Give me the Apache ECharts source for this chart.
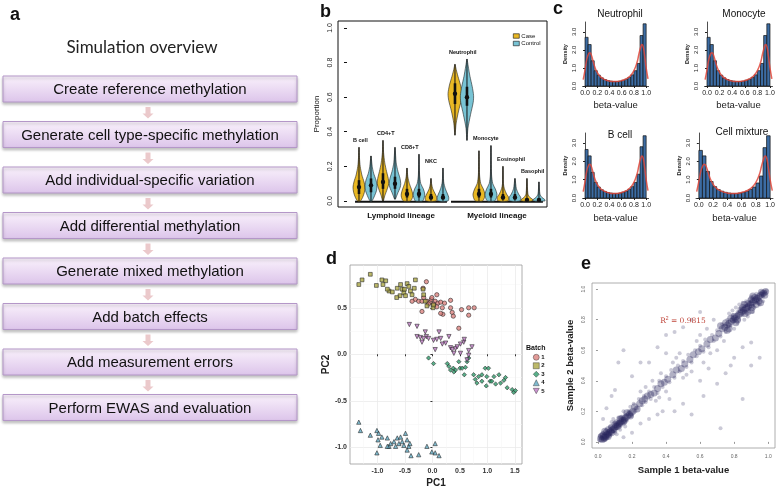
<!DOCTYPE html>
<html><head><meta charset="utf-8">
<script src="https://cdn.jsdelivr.net/npm/echarts@6/dist/echarts.min.js"></script>
<style>html,body{margin:0;padding:0;background:#fff}#c{width:778px;height:489px}</style>
</head><body><div id="c"></div>
<script>
// ---------- Panel a ----------
const flowTitle = 'Simulation overview';
const steps = ['Create reference methylation','Generate cell type-specific methylation','Add individual-specific variation','Add differential methylation','Generate mixed methylation','Add batch effects','Add measurement errors','Perform EWAS and evaluation'];

// ---------- Panel b ----------
const cellTypes = ['B cell','CD4+T','CD8+T','NKC','Neutrophil','Monocyte','Eosinophil','Basophil'];
const lineages = ['Lymphoid lineage','Myeloid lineage'];
const bTicks = [0,0.2,0.4,0.6,0.8,1.0];
// violin profiles: [proportion, half-width]
const violinCase = [
 [[0,0.12],[0.02,0.3],[0.05,0.45],[0.08,0.5],[0.11,0.42],[0.15,0.24],[0.2,0.1],[0.25,0.04],[0.31,0.01]],
 [[0,0.03],[0.03,0.15],[0.07,0.36],[0.1,0.48],[0.13,0.44],[0.17,0.3],[0.22,0.15],[0.28,0.05],[0.35,0.01]],
 [[0,0.3],[0.02,0.46],[0.04,0.48],[0.07,0.36],[0.1,0.2],[0.14,0.07],[0.19,0.01]],
 [[0,0.42],[0.02,0.48],[0.04,0.36],[0.07,0.15],[0.1,0.05],[0.13,0.01]],
 [[0.38,0.01],[0.45,0.1],[0.52,0.3],[0.58,0.52],[0.62,0.58],[0.67,0.46],[0.72,0.25],[0.76,0.1],[0.79,0.01]],
 [[0,0.3],[0.02,0.46],[0.04,0.5],[0.07,0.36],[0.1,0.15],[0.15,0.05],[0.29,0.01]],
 [[0,0.42],[0.02,0.48],[0.04,0.3],[0.07,0.12],[0.1,0.04],[0.2,0.01]],
 [[0,0.5],[0.01,0.46],[0.02,0.25],[0.04,0.08],[0.13,0.01]]
];
const violinControl = [
 [[0,0.08],[0.03,0.3],[0.06,0.46],[0.09,0.5],[0.12,0.42],[0.16,0.22],[0.2,0.1],[0.26,0.01]],
 [[0.01,0.03],[0.04,0.2],[0.08,0.44],[0.1,0.48],[0.13,0.42],[0.17,0.25],[0.22,0.1],[0.31,0.01]],
 [[0,0.3],[0.02,0.44],[0.04,0.48],[0.07,0.36],[0.1,0.15],[0.15,0.05],[0.27,0.01]],
 [[0,0.42],[0.02,0.48],[0.04,0.38],[0.07,0.2],[0.11,0.06],[0.19,0.01]],
 [[0.35,0.01],[0.42,0.08],[0.5,0.3],[0.57,0.52],[0.61,0.55],[0.66,0.44],[0.72,0.25],[0.78,0.1],[0.82,0.01]],
 [[0,0.3],[0.02,0.46],[0.04,0.5],[0.07,0.36],[0.1,0.15],[0.15,0.05],[0.32,0.01]],
 [[0,0.42],[0.02,0.48],[0.04,0.3],[0.07,0.12],[0.13,0.01]],
 [[0,0.5],[0.01,0.46],[0.02,0.25],[0.04,0.08],[0.11,0.01]]
];
// [min, q1, median, q3, max]
const boxCase = [[0,0.04,0.08,0.12,0.31],[0,0.07,0.11,0.16,0.35],[0,0.02,0.04,0.07,0.19],[0,0.01,0.02,0.04,0.13],[0.38,0.56,0.62,0.68,0.79],[0,0.02,0.04,0.07,0.29],[0,0.01,0.02,0.04,0.2],[0,0.003,0.006,0.015,0.13]];
const boxControl = [[0,0.05,0.09,0.13,0.26],[0.01,0.07,0.1,0.14,0.31],[0,0.02,0.04,0.07,0.27],[0,0.01,0.02,0.04,0.19],[0.35,0.55,0.6,0.66,0.82],[0,0.02,0.04,0.07,0.32],[0,0.01,0.02,0.04,0.13],[0,0.003,0.006,0.015,0.11]];

// ---------- Panel c ----------
const histTitles = ['Neutrophil','Monocyte','B cell','Cell mixture'];
const histBins = [0,0.05,0.1,0.15,0.2,0.25,0.3,0.35,0.4,0.45,0.5,0.55,0.6,0.65,0.7,0.75,0.8,0.85,0.9,0.95,1.0];
const histNeutrophil = [2.7,2.3,1.4,0.85,0.6,0.45,0.36,0.3,0.27,0.25,0.25,0.27,0.32,0.38,0.48,0.62,0.85,1.25,2.8,3.45];
const histMonocyte = [2.7,2.3,1.4,0.85,0.6,0.45,0.36,0.3,0.27,0.25,0.25,0.27,0.32,0.38,0.48,0.62,0.85,1.25,2.8,3.45];
const histBcell = [2.65,2.3,1.4,0.85,0.6,0.45,0.36,0.3,0.27,0.25,0.25,0.27,0.32,0.38,0.48,0.62,0.85,1.3,2.8,3.4];
const histMixture = [2.6,2.3,1.45,0.9,0.62,0.46,0.37,0.31,0.27,0.25,0.25,0.27,0.31,0.37,0.47,0.6,0.82,1.2,2.75,3.4];
const densX = [-0.03,0,0.03,0.06,0.08,0.1,0.13,0.16,0.2,0.25,0.3,0.35,0.4,0.45,0.5,0.55,0.6,0.65,0.7,0.75,0.8,0.85,0.88,0.91,0.93,0.95,0.97,1.0,1.03];
const densY = [0.35,0.9,1.5,1.8,1.85,1.75,1.4,1.05,0.75,0.52,0.4,0.32,0.27,0.25,0.25,0.26,0.3,0.36,0.45,0.6,0.85,1.3,1.75,2.15,2.3,2.2,1.8,1.0,0.4];
const cXTicks = [0,0.2,0.4,0.6,0.8,1.0];
const cYTicks = [0,1,2,3];

// ---------- Panel d ----------
const batchNames = ['1','2','3','4','5'];
const dXTicks = [-1.0,-0.5,0,0.5,1.0,1.5];
const dYTicks = [-1.0,-0.5,0,0.5];
const pcaBatch1 = [[-0.11,0.78],[-0.17,0.71],[-0.31,0.59],[-0.25,0.57],[-0.19,0.57],[-0.16,0.61],[-0.10,0.57],[-0.04,0.56],[-0.02,0.59],[0.05,0.57],[0.08,0.64],[0.02,0.54],[0.10,0.55],[0.15,0.56],[0.18,0.50],[0.22,0.55],[0.33,0.58],[0.33,0.50],[0.19,0.43],[0.36,0.45],[0.38,0.41],[0.53,0.48],[0.48,0.28],[0.66,0.50],[0.66,0.42],[0.76,0.50],[-0.37,0.57],[-0.07,0.54],[-0.19,0.46],[-0.01,0.61],[0.15,0.44],[0.08,0.51]];
const pcaBatch2 = [[-1.34,0.75],[-1.28,0.80],[-1.13,0.86],[-1.02,0.74],[-0.92,0.80],[-0.85,0.79],[-0.90,0.75],[-0.79,0.68],[-0.73,0.67],[-0.64,0.71],[-0.59,0.63],[-0.58,0.75],[-0.55,0.70],[-0.52,0.66],[-0.46,0.76],[-0.43,0.73],[-0.49,0.63],[-0.40,0.68],[-0.31,0.80],[-0.33,0.71],[-0.17,0.70],[-0.16,0.64],[-0.13,0.57],[-0.10,0.52],[0.01,0.50],[0.02,0.53],[-0.65,0.61],[-0.82,0.70],[-0.51,0.70],[-0.37,0.64]];
const pcaBatch3 = [[-0.07,-0.04],[0.02,-0.10],[0.27,-0.10],[0.30,-0.13],[0.33,-0.17],[0.38,-0.15],[0.42,-0.17],[0.39,-0.19],[0.48,-0.08],[0.50,-0.15],[0.54,-0.15],[0.60,-0.14],[0.58,-0.22],[0.63,-0.08],[0.66,-0.04],[0.75,-0.22],[0.78,-0.27],[0.84,-0.24],[0.81,-0.31],[0.90,-0.29],[0.90,-0.22],[0.96,-0.15],[0.99,-0.24],[1.02,-0.15],[1.05,-0.29],[1.12,-0.24],[1.21,-0.22],[1.24,-0.31],[1.30,-0.28],[1.33,-0.25],[1.36,-0.36],[1.45,-0.38],[1.48,-0.41],[1.51,-0.39],[0.98,-0.34],[1.08,-0.29],[1.15,-0.32]];
const pcaBatch4 = [[-1.34,-0.73],[-1.31,-0.82],[-1.13,-0.87],[-1.01,-0.82],[-0.98,-0.85],[-0.99,-0.92],[-0.92,-0.89],[-0.95,-0.98],[-0.82,-0.90],[-0.79,-0.99],[-0.76,-0.96],[-0.70,-0.94],[-0.67,-0.99],[-0.64,-0.90],[-0.61,-0.96],[-0.58,-0.89],[-0.55,-0.94],[-0.52,-0.98],[-0.49,-0.85],[-0.46,-0.92],[-0.43,-0.99],[-0.41,-0.96],[-0.39,-1.09],[-0.25,-1.08],[-0.10,-0.99],[-0.01,-1.05],[0.05,-0.96],[0.05,-1.06],[0.12,-1.09],[-1.01,-1.06],[-0.82,-0.99],[-0.46,-1.03]];
const pcaBatch5 = [[-0.42,0.32],[-0.28,0.30],[-0.28,0.19],[-0.22,0.18],[-0.16,0.17],[-0.11,0.19],[-0.13,0.24],[-0.07,0.17],[0.02,0.15],[0.08,0.16],[0.12,0.24],[0.15,0.17],[0.18,0.11],[0.24,0.12],[0.30,0.19],[0.33,0.07],[0.36,0.05],[0.42,0.06],[0.51,0.11],[0.57,0.13],[0.58,0.16],[0.51,0.01],[0.66,0.04],[0.66,-0.01],[0.72,0.08],[0.63,-0.06],[0.05,0.05],[-0.19,0.13],[0.45,0.08],[0.39,0.01]];

// ---------- Panel e ----------
const eTicks = [0,0.2,0.4,0.6,0.8,1.0];
const rSquared = '0.9815';
const betaCore = [
[0.015,0.02],[0.025,0.015],[0.035,0.03],[0.045,0.04],[0.055,0.05],[0.065,0.06],[0.075,0.07],[0.085,0.08],[0.095,0.09],[0.105,0.1],[0.115,0.11],[0.125,0.12],[0.135,0.13],[0.145,0.14],[0.155,0.15],[0.165,0.16],[0.175,0.17],[0.185,0.18],[0.195,0.19],[0.205,0.2],
[0.02,0.035],[0.035,0.02],[0.05,0.065],[0.065,0.05],[0.08,0.095],[0.095,0.08],[0.11,0.125],[0.125,0.11],[0.14,0.155],[0.155,0.14],[0.17,0.19],[0.19,0.17],[0.215,0.23],[0.23,0.215],[0.245,0.25],[0.26,0.27],[0.275,0.28],[0.29,0.3],[0.31,0.31],[0.33,0.32],
[0.35,0.35],[0.37,0.38],[0.39,0.39],[0.41,0.41],[0.44,0.44],[0.46,0.47],[0.49,0.48],[0.51,0.51],[0.54,0.54],[0.56,0.57],[0.59,0.59],[0.61,0.61],[0.64,0.64],[0.66,0.67],[0.69,0.68],[0.71,0.71],[0.73,0.74],[0.745,0.75],[0.76,0.765],[0.77,0.775],
[0.785,0.79],[0.795,0.8],[0.805,0.81],[0.815,0.82],[0.825,0.83],[0.835,0.84],[0.845,0.85],[0.855,0.86],[0.865,0.87],[0.875,0.88],[0.885,0.89],[0.895,0.9],[0.905,0.91],[0.915,0.92],[0.925,0.93],[0.935,0.94],[0.945,0.95],[0.955,0.96],[0.965,0.97],[0.975,0.975],[0.985,0.985],
[0.8,0.82],[0.82,0.8],[0.84,0.865],[0.865,0.84],[0.88,0.905],[0.905,0.88],[0.92,0.945],[0.945,0.92],[0.96,0.98],[0.98,0.96],[0.78,0.81],[0.81,0.78],[0.85,0.88],[0.88,0.85],[0.9,0.93],[0.93,0.9],[0.86,0.9],[0.9,0.86],[0.91,0.955],[0.955,0.91],[0.75,0.78],[0.77,0.74],[0.72,0.76],[0.76,0.73],
[0.03,0.045],[0.045,0.03],[0.06,0.08],[0.08,0.06],[0.1,0.115],[0.115,0.1],[0.13,0.15],[0.15,0.13],[0.06,0.035],[0.04,0.07]
];
const betaPairs = [
[0.01,0.01],[0.02,0.03],[0.03,0.02],[0.04,0.05],[0.05,0.04],[0.06,0.07],[0.07,0.05],[0.08,0.09],[0.02,0.05],[0.05,0.02],[0.09,0.07],[0.1,0.12],[0.11,0.09],[0.12,0.13],[0.13,0.11],[0.03,0.06],[0.06,0.03],[0.04,0.01],[0.01,0.04],[0.07,0.10],[0.1,0.06],[0.14,0.16],[0.15,0.12],[0.16,0.18],[0.12,0.16],[0.17,0.14],[0.18,0.2],[0.2,0.17],[0.19,0.23],[0.22,0.2],[0.08,0.13],[0.13,0.08],[0.15,0.2],[0.21,0.25],[0.23,0.22],[0.24,0.28],[0.26,0.24],[0.09,0.15],[0.16,0.1],[0.11,0.05],
[0.27,0.3],[0.28,0.26],[0.3,0.33],[0.31,0.28],[0.33,0.36],[0.35,0.32],[0.36,0.4],[0.38,0.36],[0.4,0.43],[0.42,0.39],[0.43,0.47],[0.45,0.42],[0.47,0.5],[0.48,0.46],[0.5,0.53],[0.52,0.49],[0.53,0.57],[0.55,0.52],[0.57,0.6],[0.58,0.56],[0.6,0.63],[0.62,0.59],[0.63,0.67],[0.65,0.62],[0.67,0.7],[0.68,0.66],[0.7,0.73],[0.72,0.69],[0.73,0.77],[0.75,0.72],[0.32,0.4],[0.4,0.33],[0.46,0.55],[0.55,0.46],[0.6,0.7],[0.7,0.6],[0.37,0.45],[0.5,0.42],[0.64,0.74],[0.74,0.66],
[0.76,0.8],[0.78,0.76],[0.79,0.83],[0.8,0.79],[0.82,0.85],[0.83,0.8],[0.84,0.87],[0.85,0.83],[0.86,0.89],[0.87,0.85],[0.88,0.9],[0.89,0.87],[0.9,0.92],[0.91,0.89],[0.92,0.94],[0.93,0.91],[0.94,0.95],[0.95,0.93],[0.96,0.97],[0.97,0.95],[0.98,0.98],[0.99,0.99],[0.85,0.91],[0.91,0.85],[0.81,0.88],[0.88,0.82],[0.93,0.97],[0.97,0.92],[0.8,0.74],[0.77,0.84],[0.86,0.8],[0.83,0.9],[0.9,0.95],[0.95,0.9],[0.87,0.92],[0.92,0.88],[0.89,0.93],[0.94,0.92],[0.82,0.78],[0.79,0.86],
[0.05,0.22],[0.08,0.3],[0.12,0.52],[0.15,0.6],[0.2,0.43],[0.25,0.52],[0.1,0.34],[0.3,0.52],[0.35,0.62],[0.45,0.72],[0.4,0.7],[0.5,0.75],[0.55,0.8],[0.6,0.85],[0.25,0.12],[0.3,0.15],[0.35,0.18],[0.45,0.2],[0.5,0.25],[0.55,0.18],[0.62,0.3],[0.7,0.38],[0.72,0.09],[0.75,0.45],[0.8,0.55],[0.85,0.62],[0.9,0.65],[0.85,0.28],[0.95,0.55],[0.9,0.5],[0.78,0.5],[0.2,0.06],[0.15,0.03],[0.03,0.15],[0.4,0.58],[0.6,0.4],[0.65,0.48],[0.38,0.2],[0.42,0.28],[0.68,0.8],
[0.28,0.36],[0.34,0.27],[0.44,0.52],[0.52,0.44],[0.58,0.66],[0.66,0.58],[0.25,0.33],[0.36,0.29],[0.62,0.52],[0.48,0.58]
];

// ================= build =================
const chart = echarts.init(document.getElementById('c'));
const FONT = 'Liberation Sans, Arial, sans-serif';
const caseColor = '#E9B824', ctrlColor = '#78C3D4';
const batchColors = ['#DB827E','#ABA843','#2F9B6C','#5FA9C2','#BC78C2'];
const batchSymbols = ['circle','rect','diamond','triangle','path://M0,0L10,0L5,9Z'];

// panel a graphics
const graphics = [];
graphics.push({type:'text', x:142, y:48, style:{text:flowTitle, font:'17px Lato, sans-serif', fill:'#222', textAlign:'center', textVerticalAlign:'middle'}});
const boxTop0 = 76, boxH = 26, boxGap = 45.5;
steps.forEach((s,i)=>{
  const y = boxTop0 + i*boxGap;
  graphics.push({type:'rect', shape:{x:3,y:y,width:294,height:boxH},
    style:{fill:new echarts.graphic.LinearGradient(0,0,0,1,[{offset:0,color:'#FAF2FC'},{offset:1,color:'#DCC4EA'}]),
    stroke:'#B497C8', lineWidth:1, shadowBlur:3, shadowOffsetY:2, shadowColor:'rgba(0,0,0,0.25)'}});
  graphics.push({type:'text', x:150, y:y+boxH/2+1, style:{text:s, font:'15px '+FONT, fill:'#111', textAlign:'center', textVerticalAlign:'middle'}});
  if(i < steps.length-1){
    const a0 = y+boxH+5, a1 = y+boxGap-3, cx = 148;
    graphics.push({type:'polygon', shape:{points:[[cx-2.5,a0],[cx+2.5,a0],[cx+2.5,a1-5],[cx+5.5,a1-5],[cx,a1],[cx-5.5,a1-5],[cx-2.5,a1-5]]},
      style:{fill:'#EBC9CB'}});
  }
});
// R^2 annotation in panel e
graphics.push({type:'text', x:683, y:321, z:10, style:{text:'{a|R}{s|2}{a| = '+rSquared+'}', textAlign:'center', textVerticalAlign:'middle',
  rich:{a:{fontSize:7.5, fontFamily:'DejaVu Serif, serif', fill:'#C0483D', color:'#C0483D'}, s:{fontSize:5, verticalAlign:'top', fill:'#C0483D', color:'#C0483D', padding:[0,0,5,0]}}}});

function violinRender(profiles, boxes, color){
  return function(params, api){
    const pos = api.value(0), k = api.value(1);
    const prof = profiles[k];
    const right = prof.map(p=>api.coord([pos+p[1], p[0]]));
    const left = prof.slice().reverse().map(p=>api.coord([pos-p[1], p[0]]));
    const b = boxes[k];
    const top = api.coord([pos,b[4]]), bot = api.coord([pos,b[0]]);
    const q1 = api.coord([pos,b[1]]), q3 = api.coord([pos,b[3]]), med = api.coord([pos,b[2]]);
    return {type:'group', children:[
      {type:'polygon', shape:{points:right.concat(left), smooth:0.25}, style:{fill:color, stroke:'#222', lineWidth:0.6}},
      {type:'line', shape:{x1:top[0],y1:top[1],x2:bot[0],y2:bot[1]}, style:{stroke:'#111', lineWidth:1}},
      {type:'line', shape:{x1:q1[0],y1:q1[1],x2:q3[0],y2:q3[1]}, style:{stroke:'#111', lineWidth:2.6}},
      {type:'circle', shape:{cx:med[0],cy:med[1],r:2.2}, style:{fill:'#111'}}
    ]};
  };
}
function histRender(vals){
  return function(params, api){
    const i = api.value(0);
    const p0 = api.coord([histBins[i], 0]), p1 = api.coord([histBins[i+1], vals[i]]);
    return {type:'rect', shape:{x:p0[0], y:p1[1], width:p1[0]-p0[0], height:p0[1]-p1[1]},
      style:{fill:'#3C6CA3', stroke:'#111', lineWidth:0.7}};
  };
}

const grids = [
  {left:338, top:21, width:209, height:186, show:true, borderColor:'#111', borderWidth:1},
  {left:582.6, top:22, width:66, height:64},
  {left:704.5, top:22, width:68, height:64},
  {left:582.6, top:133, width:66, height:65},
  {left:696, top:133, width:78, height:65},
  {left:350, top:265, width:172, height:203, show:true, borderColor:'#9a9a9a', borderWidth:0.8},
  {left:592, top:283, width:183, height:165, show:true, borderColor:'#999', borderWidth:0.8}
];

const xAxes = [], yAxes = [];
xAxes.push({gridIndex:0, type:'value', min:-0.75, max:16.67, axisLine:{show:false}, axisTick:{show:false}, splitLine:{show:false},
  axisLabel:{customValues:[4.5,12.5], formatter:v=>v<8?lineages[0]:lineages[1], fontSize:8, fontWeight:'bold', color:'#111', margin:5, fontFamily:FONT}});
yAxes.push({gridIndex:0, type:'value', min:-0.035, max:1.04, axisLine:{show:false}, splitLine:{show:false},
  axisTick:{customValues:bTicks, length:3, lineStyle:{color:'#111'}},
  axisLabel:{customValues:bTicks, formatter:v=>v.toFixed(1), rotate:90, fontSize:7, color:'#222', margin:4, fontFamily:FONT},
  name:'Proportion', nameLocation:'middle', nameRotate:90, nameGap:17, nameTextStyle:{fontSize:8, color:'#111', fontFamily:FONT}});
for(let g=1; g<=4; g++){
  xAxes.push({gridIndex:g, type:'value', min:-0.04, max:1.04, offset:2, splitLine:{show:false},
    axisLine:{lineStyle:{color:'#222', width:0.8}},
    axisTick:{customValues:cXTicks, length:2, lineStyle:{color:'#222'}},
    axisLabel:{customValues:cXTicks, formatter:v=>v.toFixed(1), fontSize:7, color:'#222', margin:2, fontFamily:FONT},
    name:'beta-value', nameLocation:'middle', nameGap:g<=2?12:13, nameTextStyle:{fontSize:9.5, color:'#222', fontFamily:FONT}});
  yAxes.push({gridIndex:g, type:'value', min:0, max:3.55, offset:3, splitLine:{show:false},
    axisLine:{lineStyle:{color:'#222', width:0.8}},
    axisTick:{customValues:cYTicks, length:2, lineStyle:{color:'#222'}},
    axisLabel:{customValues:cYTicks, formatter:v=>v.toFixed(1), rotate:90, fontSize:6, color:'#222', margin:2, fontFamily:FONT},
    name:'Density', nameLocation:'middle', nameRotate:90, nameGap:11, nameTextStyle:{fontSize:5.5, fontWeight:'bold', color:'#222', fontFamily:FONT}});
}
xAxes.push({gridIndex:5, type:'value', min:-1.5, max:1.63, axisLine:{show:false},
  axisTick:{customValues:dXTicks, length:2, lineStyle:{color:'#333'}},
  axisLabel:{customValues:dXTicks, formatter:v=>v.toFixed(1), fontSize:7, fontWeight:'bold', color:'#333', margin:4, fontFamily:FONT},
  splitLine:{show:true, lineStyle:{color:'#ebebeb', width:0.8}}, minorTick:{show:false, splitNumber:2}, minorSplitLine:{show:true, lineStyle:{color:'#f5f5f5', width:0.5}},
  name:'PC1', nameLocation:'middle', nameGap:14, nameTextStyle:{fontSize:10, fontWeight:'bold', color:'#222', fontFamily:FONT}});
yAxes.push({gridIndex:5, type:'value', min:-1.18, max:0.96, axisLine:{show:false},
  axisTick:{customValues:dYTicks, length:2, lineStyle:{color:'#333'}},
  axisLabel:{customValues:dYTicks, formatter:v=>v.toFixed(1), fontSize:7, fontWeight:'bold', color:'#333', margin:3, fontFamily:FONT},
  splitLine:{show:true, lineStyle:{color:'#ebebeb', width:0.8}}, minorTick:{show:false, splitNumber:2}, minorSplitLine:{show:true, lineStyle:{color:'#f5f5f5', width:0.5}},
  name:'PC2', nameLocation:'middle', nameRotate:90, nameGap:16, nameTextStyle:{fontSize:10, fontWeight:'bold', color:'#222', fontFamily:FONT}});
xAxes.push({gridIndex:6, type:'value', min:-0.035, max:1.04, axisLine:{show:false}, splitLine:{show:false},
  axisTick:{customValues:eTicks, length:2, lineStyle:{color:'#999'}},
  axisLabel:{customValues:eTicks, formatter:v=>v.toFixed(1), fontSize:5, color:'#666', margin:6, fontFamily:FONT},
  name:'Sample 1 beta-value', nameLocation:'middle', nameGap:17, nameTextStyle:{fontSize:9.5, fontWeight:'bold', color:'#222', fontFamily:FONT}});
yAxes.push({gridIndex:6, type:'value', min:-0.04, max:1.04, axisLine:{show:false}, splitLine:{show:false},
  axisTick:{customValues:eTicks, length:2, lineStyle:{color:'#999'}},
  axisLabel:{customValues:eTicks, formatter:v=>v.toFixed(1), rotate:90, fontSize:5, color:'#666', margin:6, fontFamily:FONT},
  name:'Sample 2 beta-value', nameLocation:'middle', nameRotate:90, nameGap:17, nameTextStyle:{fontSize:9.5, fontWeight:'bold', color:'#222', fontFamily:FONT}});

const series = [];
series.push({name:'Case', type:'custom', xAxisIndex:0, yAxisIndex:0, itemStyle:{color:caseColor, borderColor:'#111'},
  renderItem:violinRender(violinCase, boxCase, caseColor), data:cellTypes.map((n,i)=>[i*2+1, i]), z:3});
series.push({name:'Control', type:'custom', xAxisIndex:0, yAxisIndex:0, itemStyle:{color:ctrlColor, borderColor:'#111'},
  renderItem:violinRender(violinControl, boxControl, ctrlColor), data:cellTypes.map((n,i)=>[i*2+2, i]), z:3});
[[0,4],[4,8]].forEach(r=>{
  series.push({type:'line', xAxisIndex:0, yAxisIndex:0, symbol:'none', silent:true, z:2,
    lineStyle:{color:'#111', width:2},
    data:[[r[0]*2+1-0.33, -0.004],[r[1]*2+0.33, -0.004]]});
});
series.push({type:'custom', xAxisIndex:0, yAxisIndex:0, silent:true, z:4,
  data:cellTypes.map((n,i)=>[i*2+1, Math.max(boxCase[i][4], boxControl[i][4]), i]),
  renderItem:(params, api)=>{
    const p = api.coord([api.value(0)-0.5, api.value(1)]);
    return {type:'text', x:p[0], y:p[1]-4, style:{text:cellTypes[api.value(2)], font:'bold 5.5px '+FONT, fill:'#111', textAlign:'left', textVerticalAlign:'bottom'}};
  }});
const hists = [histNeutrophil, histMonocyte, histBcell, histMixture];
hists.forEach((h,k)=>{
  series.push({type:'custom', xAxisIndex:k+1, yAxisIndex:k+1, silent:true, renderItem:histRender(h), data:h.map((v,i)=>[i, v])});
  series.push({type:'line', xAxisIndex:k+1, yAxisIndex:k+1, symbol:'none', smooth:true, silent:true, z:5,
    lineStyle:{color:'#E0483C', width:1.5, opacity:0.85}, data:densX.map((x,i)=>[x, densY[i]])});
});
[pcaBatch1,pcaBatch2,pcaBatch3,pcaBatch4,pcaBatch5].forEach((d,k)=>{
  series.push({name:batchNames[k], type:'scatter', xAxisIndex:5, yAxisIndex:5, symbol:batchSymbols[k], symbolSize:k===1?3.8:4.3,
    itemStyle:{color:batchColors[k], borderColor:'#222', borderWidth:0.7}, data:d});
});
series.push({type:'scatter', xAxisIndex:6, yAxisIndex:6, symbolSize:4, silent:true,
  itemStyle:{color:'rgba(40,36,92,0.3)'}, data:betaPairs});
series.push({type:'scatter', xAxisIndex:6, yAxisIndex:6, symbolSize:7, silent:true,
  itemStyle:{color:'rgba(40,36,92,0.45)'}, data:betaCore});

const option = {
  animation:false,
  textStyle:{fontFamily:FONT},
  title:[
    {text:'a', left:5, top:1, textStyle:{fontSize:18, fontWeight:'bold', color:'#111'}},
    {text:'b', left:315, top:-2, textStyle:{fontSize:18, fontWeight:'bold', color:'#111'}},
    {text:'c', left:548, top:-5, textStyle:{fontSize:18, fontWeight:'bold', color:'#111'}},
    {text:'d', left:321, top:245, textStyle:{fontSize:18, fontWeight:'bold', color:'#111'}},
    {text:'e', left:576, top:250, textStyle:{fontSize:18, fontWeight:'bold', color:'#111'}},
    {text:histTitles[0], left:615, top:4, textAlign:'center', textStyle:{fontSize:10, fontWeight:'normal', color:'#111'}},
    {text:histTitles[1], left:739, top:4, textAlign:'center', textStyle:{fontSize:10, fontWeight:'normal', color:'#111'}},
    {text:histTitles[2], left:615, top:125, textAlign:'center', textStyle:{fontSize:10, fontWeight:'normal', color:'#111'}},
    {text:histTitles[3], left:737, top:122, textAlign:'center', textStyle:{fontSize:10, fontWeight:'normal', color:'#111'}},
    {text:'Batch', left:521, top:340, textStyle:{fontSize:7, fontWeight:'bold', color:'#111'}}
  ],
  legend:[
    {data:['Case','Control'], left:508, top:28, orient:'vertical', itemWidth:6, itemHeight:4.5, itemGap:1.5, icon:'rect',
      textStyle:{fontSize:6, color:'#111', padding:[0,0,0,-3]}, itemStyle:{borderColor:'#111', borderWidth:0.6}},
    {data:batchNames, left:528, top:349, orient:'vertical', itemWidth:6, itemHeight:6, itemGap:2,
      textStyle:{fontSize:6, fontWeight:'bold', color:'#111', padding:[0,0,0,-3]}, itemStyle:{borderColor:'#222', borderWidth:0.5}}
  ],
  grid:grids, xAxis:xAxes, yAxis:yAxes, series:series, graphic:graphics
};
chart.setOption(option);
</script></body></html>
